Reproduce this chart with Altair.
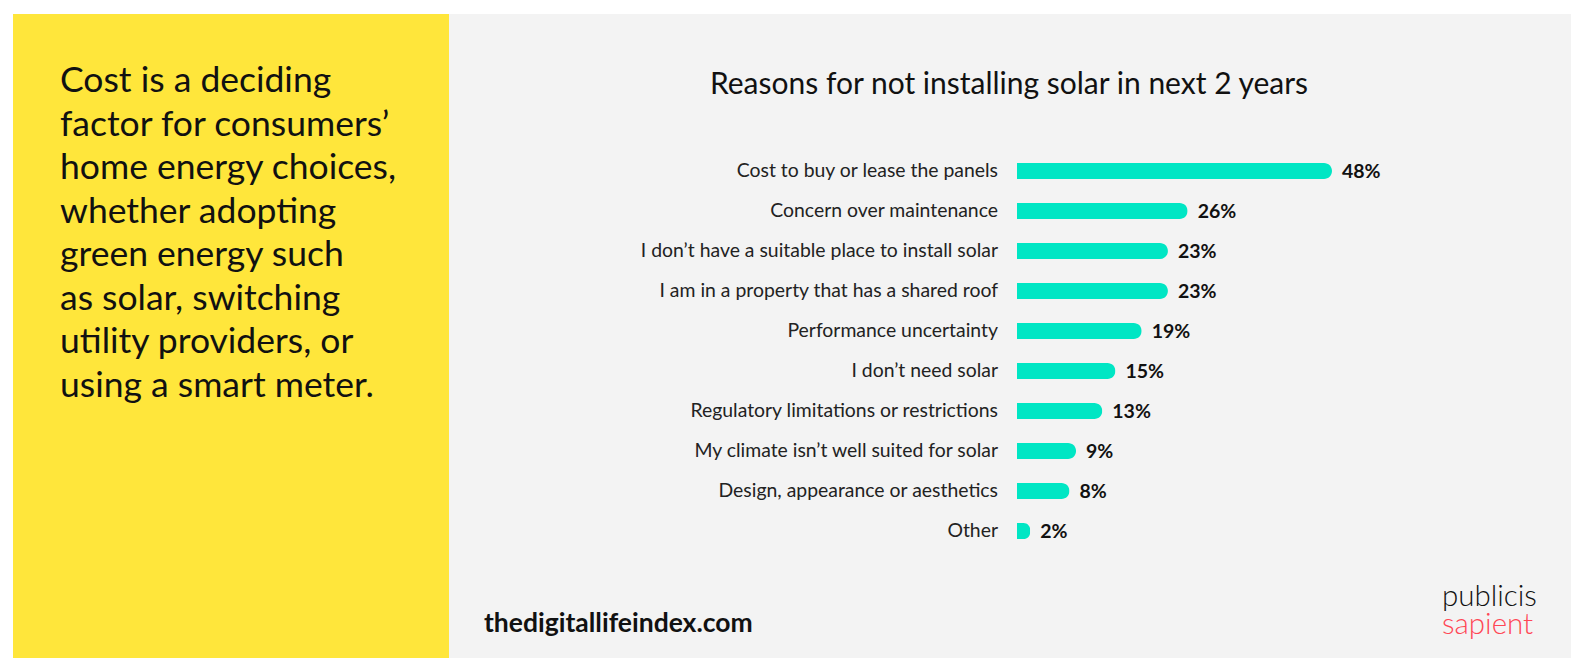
import altair as alt
import pandas as pd

categories = [
    "Cost to buy or lease the panels",
    "Concern over maintenance",
    "I don’t have a suitable place to install solar",
    "I am in a property that has a shared roof",
    "Performance uncertainty",
    "I don’t need solar",
    "Regulatory limitations or restrictions",
    "My climate isn’t well suited for solar",
    "Design, appearance or aesthetics",
    "Other",
]
values = [48, 26, 23, 23, 19, 15, 13, 9, 8, 2]

title_text = "Reasons for not installing solar in next 2 years"
side_lines = [
    "Cost is a deciding",
    "factor for consumers’",
    "home energy choices,",
    "whether adopting",
    "green energy such",
    "as solar, switching",
    "utility providers, or",
    "using a smart meter.",
]
site_text = "thedigitallifeindex.com"
brand_top = "publicis"
brand_bottom = "sapient"

FONT = "Lato"
W, H = 1571, 658

df = pd.DataFrame({"cat": categories, "val": values})
df["label"] = [f"{v}%" for v in values]
one = pd.DataFrame({"k": [0]})

xs = alt.Scale(domain=[0, 48], range=[1017, 1332], nice=False, zero=True)
ys = alt.Scale(domain=categories, range=[151, 551], paddingInner=0.6, paddingOuter=0.3)

base = alt.Chart(df)

yellow = alt.Chart(one).mark_rect(color="#ffe63b").encode(
    x=alt.value(13), x2=alt.value(449), y=alt.value(14), y2=alt.value(H))
gray = alt.Chart(one).mark_rect(color="#f3f3f3").encode(
    x=alt.value(449), x2=alt.value(W), y=alt.value(14), y2=alt.value(H))

bars = base.mark_bar(color="#00e6c4", cornerRadiusEnd=8).encode(
    x=alt.X("val:Q", scale=xs, axis=None),
    y=alt.Y("cat:N", scale=ys, axis=None, sort=categories),
)
vals = base.mark_text(align="left", baseline="middle", dx=10, dy=1, font=FONT,
                      fontSize=19.5, fontWeight="bold", color="#111").encode(
    x=alt.X("val:Q", scale=xs, axis=None),
    y=alt.Y("cat:N", scale=ys, axis=None, sort=categories),
    text="label:N",
)
cats = base.mark_text(align="right", baseline="middle", dx=-19, dy=0, font=FONT,
                      fontSize=19.4, color="#222").encode(
    x=alt.datum(0, scale=xs),
    y=alt.Y("cat:N", scale=ys, axis=None, sort=categories),
    text="cat:N",
)

title = alt.Chart(one).mark_text(align="center", baseline="alphabetic", font=FONT,
                                 fontSize=30, color="#111").encode(
    x=alt.value(1009), y=alt.value(94), text=alt.value(title_text))

side_df = pd.DataFrame({"line": side_lines, "i": list(range(len(side_lines)))})
side_df["ypos"] = [92 + 43.5 * i for i in range(len(side_lines))]
side = alt.Chart(side_df).mark_text(align="left", baseline="alphabetic", font=FONT,
                                    fontSize=35.5, color="#111").encode(
    x=alt.value(60), y=alt.Y("ypos:Q", scale=None), text="line:N")

site = alt.Chart(one).mark_text(align="left", baseline="alphabetic", font=FONT,
                                fontSize=26.5, fontWeight="bold", color="#111").encode(
    x=alt.value(484), y=alt.value(632), text=alt.value(site_text))
b1 = alt.Chart(one).mark_text(align="left", baseline="alphabetic", font=FONT,
                              fontSize=29.5, fontWeight=300, color="#111").encode(
    x=alt.value(1442), y=alt.value(606), text=alt.value(brand_top))
b2 = alt.Chart(one).mark_text(align="left", baseline="alphabetic", font=FONT,
                              fontSize=29.5, fontWeight=300, color="#ff4755").encode(
    x=alt.value(1442), y=alt.value(634), text=alt.value(brand_bottom))

chart = alt.layer(yellow, gray, bars, vals, cats, title, side, site, b1, b2).properties(
    width=W, height=H, padding=0, autosize=alt.AutoSizeParams(type="none"),
    background="white",
).configure_view(stroke=None)

chart.save("out.html", embed_options={"renderer": "svg", "actions": False})
